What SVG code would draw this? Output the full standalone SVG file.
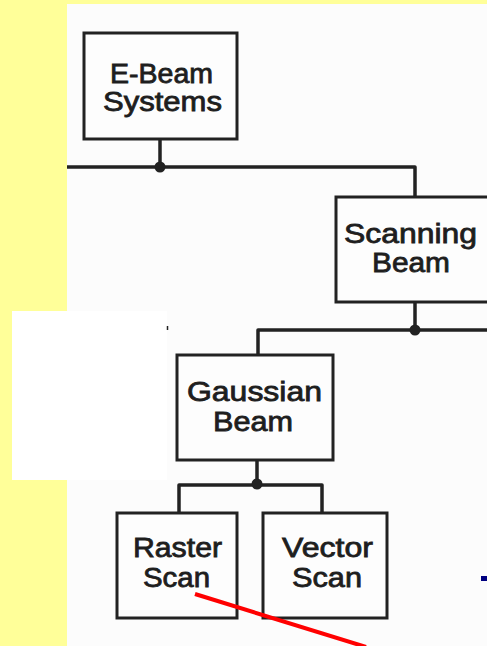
<svg xmlns="http://www.w3.org/2000/svg" width="487" height="646" viewBox="0 0 487 646">
<style>
.box{fill:#fdfdfd;stroke:#222;stroke-width:3}
.t{font-family:"Liberation Sans",Arial,sans-serif;font-size:27px;fill:#1e1e1e;stroke:#1e1e1e;stroke-width:0.8;text-anchor:middle}
.c{fill:none;stroke:#222;stroke-width:3.5;stroke-linejoin:round}
.dot{fill:#222}
</style>
<rect x="0" y="0" width="487" height="646" fill="#ffff99"/>
<rect x="67" y="4" width="420" height="642" fill="#fcfcfc"/>
<rect x="12" y="311" width="155" height="169" fill="#ffffff"/>
<line x1="167.5" y1="326" x2="167.5" y2="330" stroke="#222" stroke-width="1.5"/>
<g id="connectors">
<polyline class="c" points="160,139 160,167"/>
<polyline class="c" points="67,167 415,167 415,197"/>
<circle class="dot" cx="160" cy="167" r="5.5"/>
<polyline class="c" points="415,302 415,330"/>
<polyline class="c" points="258,355 258,330 487,330"/>
<circle class="dot" cx="415" cy="330" r="5.5"/>
<polyline class="c" points="257,460 257,485"/>
<polyline class="c" points="179,513 179,485 322,485 322,513"/>
<circle class="dot" cx="257" cy="484" r="5.5"/>
</g>
<g id="ebeam">
<rect class="box" x="84" y="33" width="153" height="106"/>
<text class="t" x="161.5" y="83" textLength="103" lengthAdjust="spacingAndGlyphs">E-Beam</text>
<text class="t" x="162.5" y="111" textLength="119" lengthAdjust="spacingAndGlyphs">Systems</text>
</g>
<g id="scanning">
<rect class="box" x="336" y="197" width="160" height="105"/>
<text class="t" x="410.5" y="243" textLength="133" lengthAdjust="spacingAndGlyphs">Scanning</text>
<text class="t" x="411" y="272" textLength="78" lengthAdjust="spacingAndGlyphs">Beam</text>
</g>
<g id="gaussian">
<rect class="box" x="177" y="355" width="156" height="105"/>
<text class="t" x="254.5" y="401" textLength="135" lengthAdjust="spacingAndGlyphs">Gaussian</text>
<text class="t" x="253" y="431" textLength="80" lengthAdjust="spacingAndGlyphs">Beam</text>
</g>
<g id="raster">
<rect class="box" x="117" y="513" width="120" height="105"/>
<text class="t" x="177.5" y="557" textLength="89" lengthAdjust="spacingAndGlyphs">Raster</text>
<text class="t" x="176.5" y="587" textLength="67" lengthAdjust="spacingAndGlyphs">Scan</text>
</g>
<g id="vector">
<rect class="box" x="263" y="513" width="124" height="105"/>
<text class="t" x="327.5" y="557" textLength="91" lengthAdjust="spacingAndGlyphs">Vector</text>
<text class="t" x="327" y="587" textLength="70" lengthAdjust="spacingAndGlyphs">Scan</text>
</g>
<line x1="195" y1="594" x2="366" y2="647" stroke="#ff0000" stroke-width="4"/>
<rect x="481" y="576" width="6" height="5" fill="#000080"/>
</svg>
